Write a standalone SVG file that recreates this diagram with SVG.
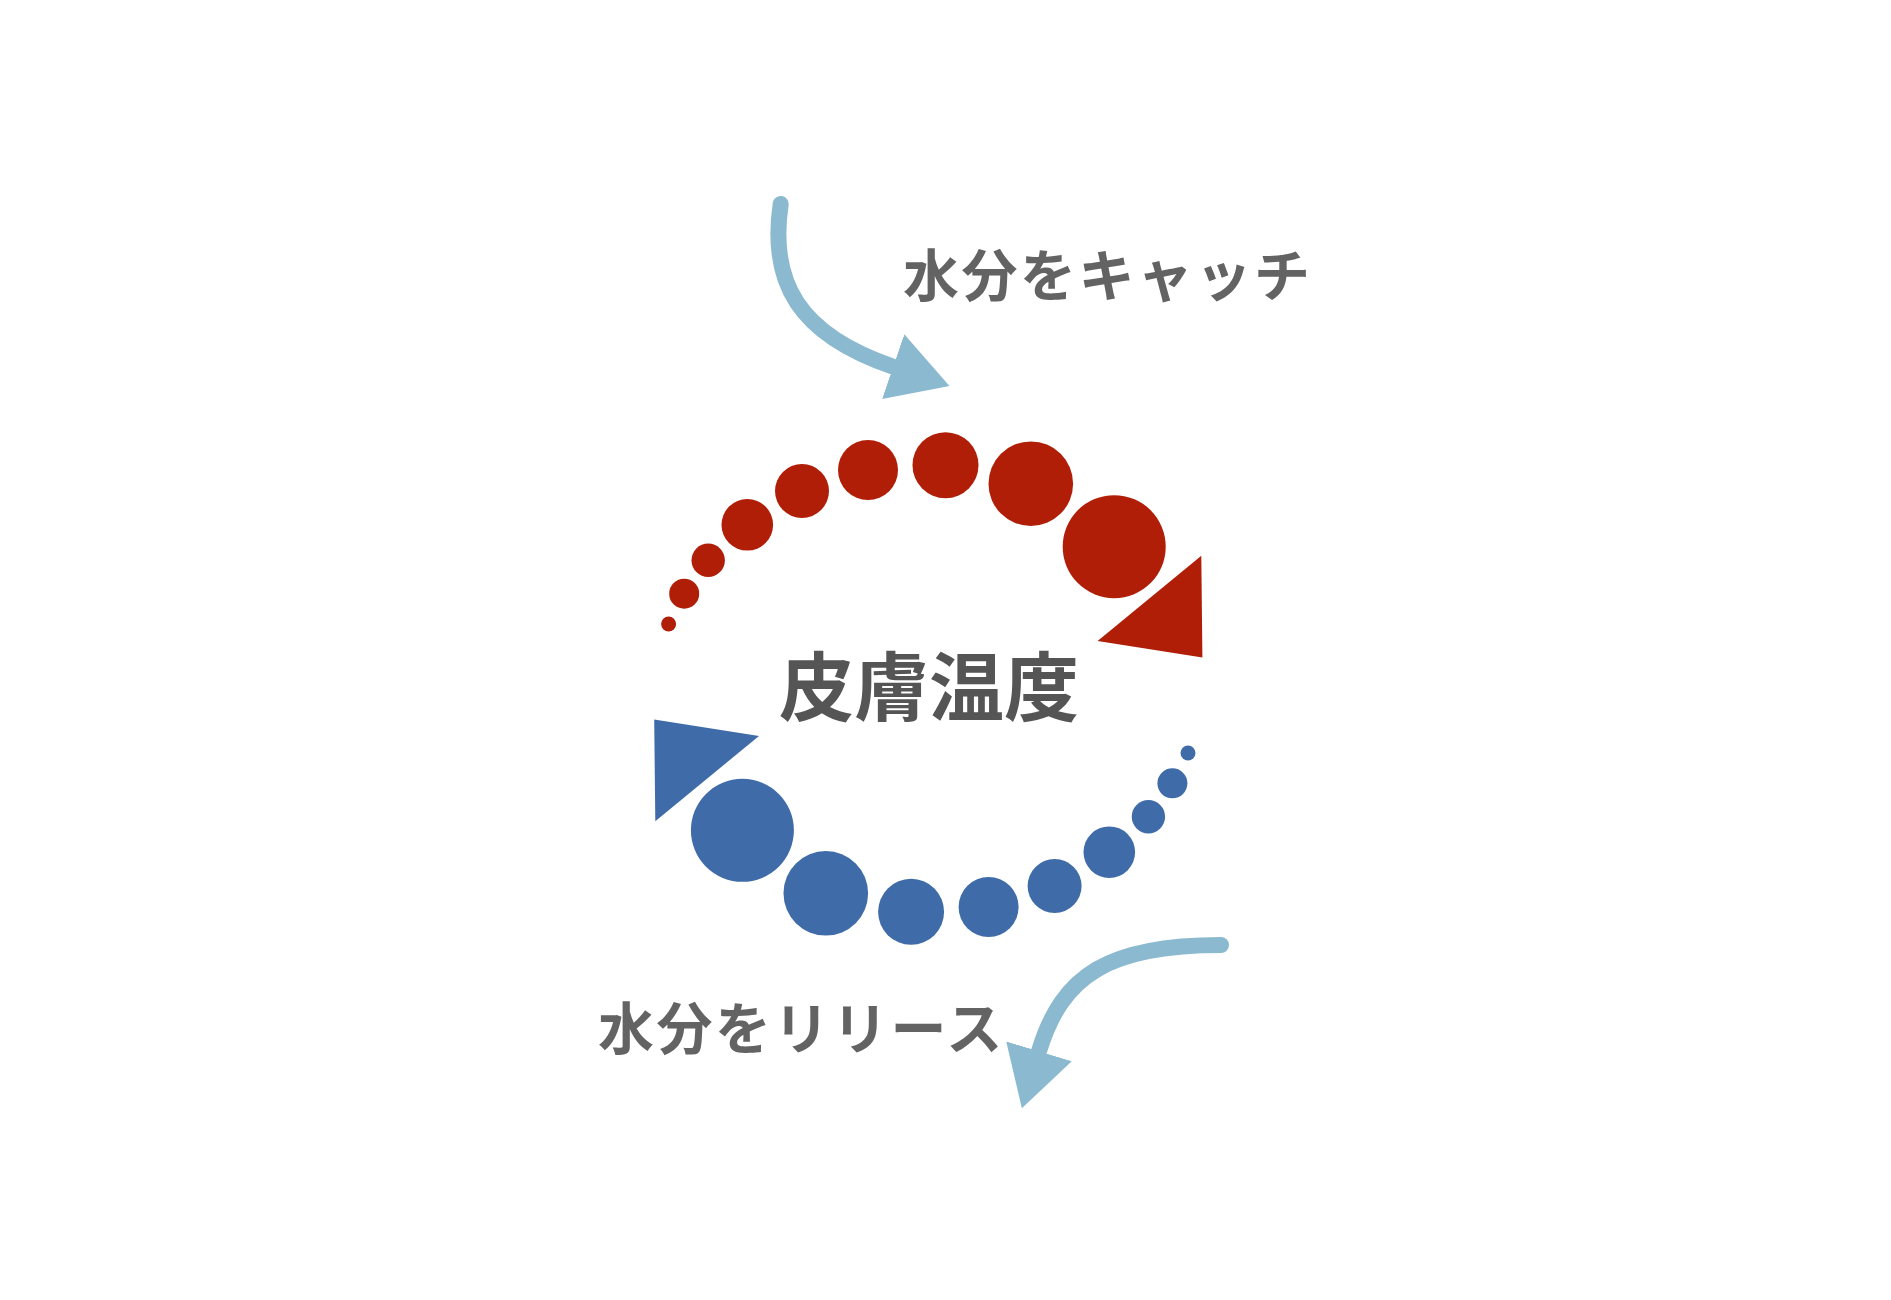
<svg xmlns="http://www.w3.org/2000/svg" width="1891" height="1300" viewBox="0 0 1891 1300">
  <style>
    .red { fill: #B01E08; }
    .blue { fill: #3F6CA9; }
    .flow { fill: none; stroke: #8AB9D0; stroke-width: 16; stroke-linecap: round; }
    .title { font-family: "Noto Sans CJK JP", "Noto Sans CJK SC", sans-serif; font-weight: 700; font-size: 75px; fill: #555555; letter-spacing: 0px; }
    .label { font-family: "Noto Sans CJK JP", "Noto Sans CJK SC", sans-serif; font-weight: 700; font-size: 56px; fill: #636363; letter-spacing: 2.5px; }
  </style>
  <defs>
    <marker id="head" markerUnits="userSpaceOnUse" markerWidth="60" markerHeight="70" viewBox="0 -33 57 66" refX="0" refY="0" orient="auto">
      <path d="M0,-32.5 L56.5,0 L0,32.5 Z" fill="#8AB9D0"/>
    </marker>
  </defs>
  <rect width="1891" height="1300" fill="#ffffff"/>

  <g id="warming-cycle">
    <circle class="red" cx="668.6" cy="624" r="7.5"/>
    <circle class="red" cx="684.2" cy="593.7" r="15"/>
    <circle class="red" cx="708.2" cy="560.3" r="16.7"/>
    <circle class="red" cx="747.3" cy="524.8" r="25.8"/>
    <circle class="red" cx="802" cy="491" r="27"/>
    <circle class="red" cx="868" cy="470" r="30"/>
    <circle class="red" cx="945.5" cy="465.2" r="33"/>
    <circle class="red" cx="1030.8" cy="483.7" r="42.3"/>
    <circle class="red" cx="1114.2" cy="546.7" r="51.5"/>
    <polygon class="red" points="1097.6,641 1201.3,555.8 1202.4,657.5"/>
  </g>

  <g id="cooling-cycle">
    <circle class="blue" cx="1188" cy="753" r="7.5"/>
    <circle class="blue" cx="1172.4" cy="783.3" r="15"/>
    <circle class="blue" cx="1148.4" cy="816.7" r="16.7"/>
    <circle class="blue" cx="1109.3" cy="852.2" r="25.8"/>
    <circle class="blue" cx="1054.6" cy="886" r="27"/>
    <circle class="blue" cx="988.6" cy="907" r="30"/>
    <circle class="blue" cx="911.1" cy="911.8" r="33"/>
    <circle class="blue" cx="825.8" cy="893.3" r="42.3"/>
    <circle class="blue" cx="742.4" cy="830.3" r="51.5"/>
    <polygon class="blue" points="759,736 655.3,821.2 654.2,719.5"/>
  </g>

  <g id="skin-temperature">
    <text class="title" x="929" y="715" text-anchor="middle">皮膚温度</text>
  </g>

  <g id="label-catch">
    <text class="label" x="903" y="296">水分をキャッチ</text>
  </g>

  <g id="label-release">
    <text class="label" x="598" y="1049">水分をリリース</text>
  </g>

  <g id="connectors">
    <path class="flow" d="M780.7,204 C769.1,282.4 798.4,334.3 893.2,366.7" marker-end="url(#head)"/>
    <path class="flow" d="M1221,945 C1110,945 1062.2,974.2 1039,1051.3" marker-end="url(#head)"/>
  </g>
</svg>
